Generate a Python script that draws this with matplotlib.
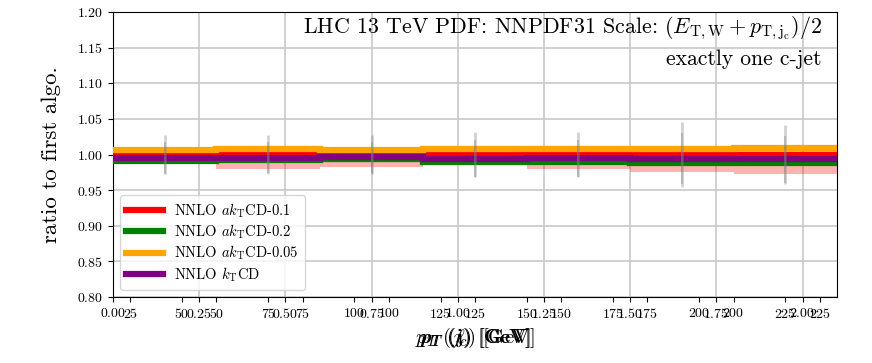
import matplotlib
matplotlib.use("Agg")
import matplotlib.pyplot as plt
import numpy as np

plt.rcParams['font.family'] = 'serif'
plt.rcParams['font.serif'] = ['cmr10']
plt.rcParams['mathtext.fontset'] = 'cm'
plt.rcParams['axes.formatter.use_mathtext'] = True

# bin edges in pT [GeV]
edges = np.array([20, 50, 80, 110, 140, 170, 200, 230])
centers = 0.5 * (edges[:-1] + edges[1:])

labels = [r'NNLO $ak_{\rm T}$CD-0.1', r'NNLO $ak_{\rm T}$CD-0.2',
          r'NNLO $ak_{\rm T}$CD-0.05', r'NNLO $k_{\rm T}$CD']
colors = ['red', 'green', 'orange', 'purple']

r_01 = [1.000, 1.000, 1.000, 1.000, 1.000, 1.000, 1.000]
r_02 = [0.9913, 0.9922, 0.9931, 0.9900, 0.9900, 0.9880, 0.9875]
r_005 = [1.0069, 1.0079, 1.0059, 1.0080, 1.0073, 1.0073, 1.0097]
r_kt = [0.9951, 0.9955, 0.9958, 0.9940, 0.9946, 0.9942, 0.9933]
ratios = [r_01, r_02, r_005, r_kt]

# uncertainty band of first algo
band_lo = [0.990, 0.979, 0.982, 0.990, 0.980, 0.975, 0.973]
band_hi = [1.008, 1.012, 1.010, 1.008, 1.009, 1.009, 1.014]

# stat errors
err_a = [0.028, 0.028, 0.028, 0.032, 0.032, 0.046, 0.041]
err_b = [0.022, 0.022, 0.022, 0.026, 0.026, 0.036, 0.033]

rect = [113/872, 1 - 297/363, 724/872, 285/363]
fig = plt.figure(figsize=(8.72, 3.63), dpi=100)

# background axes with grid
axg = fig.add_axes(rect)
axg.set_xlim(0, 2.1)
axg.set_ylim(0.8, 1.2)
axg.set_xticks(np.arange(0, 2.01, 0.25))
axg.grid(True, color='#c8c8c8', lw=1.2)
axg.set_yticks(np.arange(0.8, 1.201, 0.05))
axg.tick_params(labelsize=10)
axg.set_xlabel(r'$p_T$ ($\ell$) [GeV]', fontsize=15)

axa = fig.add_axes(rect, frameon=False)
axa.set_xlim(30, 240)
axa.set_xticks(np.arange(50, 226, 25))
axa.set_yticks([])
axa.patch.set_visible(False)
axa.tick_params(labelsize=10)
axa.set_xlabel(r'$p_T$ (j) [GeV]', fontsize=15)

ax = fig.add_axes(rect, frameon=False)
ax.patch.set_visible(False)
ax.set_xlim(20, 230)
ax.set_ylim(0.8, 1.2)
ax.set_xticks(np.arange(25, 226, 25))
ax.set_yticks([])
ax.tick_params(labelsize=10)
ax.set_xlabel(r'$p_T$ ($j_c$) [GeV]', fontsize=15)

ax.stairs(band_hi, edges, baseline=band_lo, fill=True, color='red', alpha=0.3)
for vals, c, lab in zip(ratios, colors, labels):
    ax.stairs(vals, edges, baseline=None, color=c, lw=4.5, label=lab)
ax.errorbar(centers, r_01, yerr=err_a, fmt='none', ecolor='gray', alpha=0.35, lw=2)
ax.errorbar(centers, r_kt, yerr=err_b, fmt='none', ecolor='gray', alpha=0.35, lw=1.5)

axg.set_ylabel('ratio to first algo.', fontsize=16.5, labelpad=12)

ax.text(0.979, 0.99, r'LHC 13 TeV PDF: NNPDF31 Scale: $(E_{\rm T,W}+p_{\rm T,j_c})/2$',
        transform=ax.transAxes, ha='right', va='top', fontsize=15.8)
ax.text(0.979, 0.87, 'exactly one c-jet', transform=ax.transAxes,
        ha='right', va='top', fontsize=15.5)

ax.legend(loc='lower left', fontsize=10.5, handlelength=2.5, labelspacing=0.2)

fig.savefig('out.png', dpi=100)
